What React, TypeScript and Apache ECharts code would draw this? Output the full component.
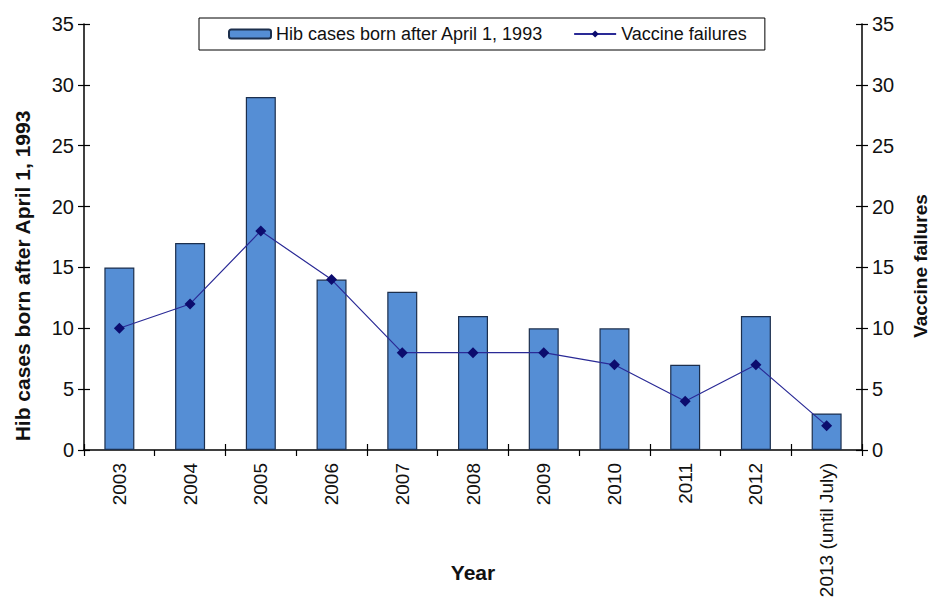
import React, { useEffect, useRef } from "react";
import * as echarts from "echarts";

const categories = ["2003", "2004", "2005", "2006", "2007", "2008", "2009", "2010", "2011", "2012", "2013 (until July)"];
const hibCases = [15, 17, 29, 14, 13, 11, 10, 10, 7, 11, 3];
const vaccineFailures = [10, 12, 18, 14, 8, 8, 8, 7, 4, 7, 2];
const yTicks = { min: 0, max: 35, interval: 5 };
const leftTitle = "Hib cases born after April 1, 1993";
const rightTitle = "Vaccine failures";
const xTitle = "Year";

const FONT = "Liberation Sans, Arial, sans-serif";

export default function App() {
  const ref = useRef<HTMLDivElement>(null);
  useEffect(() => {
    if (!ref.current) return;
    const chart = echarts.init(ref.current, null, { renderer: "svg" });
    const axisLine = { show: true, lineStyle: { color: "#000", width: 1.5 } };
    const tick = { color: "#000", width: 1.2 };
    chart.setOption({
      animation: false,
      backgroundColor: "#fff",
      textStyle: { fontFamily: FONT },
      grid: { left: 84, right: 70, top: 24, bottom: 159, containLabel: false, outerBoundsMode: "none" },
      legend: {
        left: 199,
        top: 18,
        padding: [7, 18, 7, 29],
        backgroundColor: "#fff",
        borderColor: "#000",
        borderWidth: 1,
        itemGap: 30,
        itemWidth: 42,
        itemHeight: 9,
        textStyle: { fontFamily: FONT, fontSize: 18, color: "#111" },
        data: [{ name: leftTitle }, { name: rightTitle }],
      },
      graphic: [
        {
          type: "text",
          x: 22,
          y: 276,
          rotation: Math.PI / 2,
          style: {
            text: leftTitle,
            fontFamily: FONT,
            fontSize: 21,
            fontWeight: "bold",
            fill: "#111",
            align: "center",
            verticalAlign: "middle",
          },
        },
        {
          type: "text",
          x: 920,
          y: 266,
          rotation: Math.PI / 2,
          style: {
            text: rightTitle,
            fontFamily: FONT,
            fontSize: 19,
            fontWeight: "bold",
            fill: "#111",
            align: "center",
            verticalAlign: "middle",
          },
        },
      ],
      xAxis: [
        {
          type: "category",
          data: categories,
          position: "bottom",
          axisLine,
          axisTick: { show: true, length: 6, lineStyle: tick },
          axisLabel: { rotate: 90, fontSize: 19, color: "#111", fontFamily: FONT, margin: 13 },
          name: xTitle,
          nameLocation: "middle",
          nameGap: 112,
          nameMoveOverlap: false,
          nameTextStyle: { fontSize: 21, fontWeight: "bold", color: "#111", fontFamily: FONT },
        },
        {
          type: "category",
          data: categories,
          position: "bottom",
          axisLine: { show: false },
          axisTick: { show: true, inside: true, length: 6, lineStyle: tick },
          axisLabel: { show: false },
        },
      ],
      yAxis: [
        {
          type: "value",
          ...yTicks,
          position: "left",
          axisLine,
          splitLine: { show: false },
          axisTick: { show: true, length: 6, lineStyle: tick },
          axisLabel: { fontSize: 20, color: "#111", fontFamily: FONT, margin: 10 },
        },
        {
          type: "value",
          ...yTicks,
          position: "right",
          axisLine,
          splitLine: { show: false },
          axisTick: { show: true, length: 6, lineStyle: tick },
          axisLabel: { fontSize: 20, color: "#111", fontFamily: FONT, margin: 10 },
        },
        {
          type: "value",
          ...yTicks,
          position: "left",
          axisLine: { show: false },
          splitLine: { show: false },
          axisTick: { show: true, inside: true, length: 6, lineStyle: tick },
          axisLabel: { show: false },
        },
        {
          type: "value",
          ...yTicks,
          position: "right",
          axisLine: { show: false },
          splitLine: { show: false },
          axisTick: { show: true, inside: true, length: 6, lineStyle: tick },
          axisLabel: { show: false },
        },
      ],
      series: [
        {
          name: leftTitle,
          type: "bar",
          data: hibCases,
          barWidth: 30,
          xAxisIndex: 0,
          yAxisIndex: 0,
          itemStyle: { color: "#558ed5", borderColor: "#1c2f4d", borderWidth: 1.2 },
        },
        {
          name: rightTitle,
          type: "line",
          data: vaccineFailures,
          xAxisIndex: 0,
          yAxisIndex: 1,
          symbol: "diamond",
          symbolSize: 11,
          lineStyle: { color: "#2a2a96", width: 1.2 },
          itemStyle: { color: "#0c0c6e" },
          z: 5,
        },
      ],
    });
    return () => chart.dispose();
  }, []);
  return (
    <div
      ref={ref}
      style={{ position: "absolute", left: 0, top: 0, width: 932, height: 609 }}
    />
  );
}
